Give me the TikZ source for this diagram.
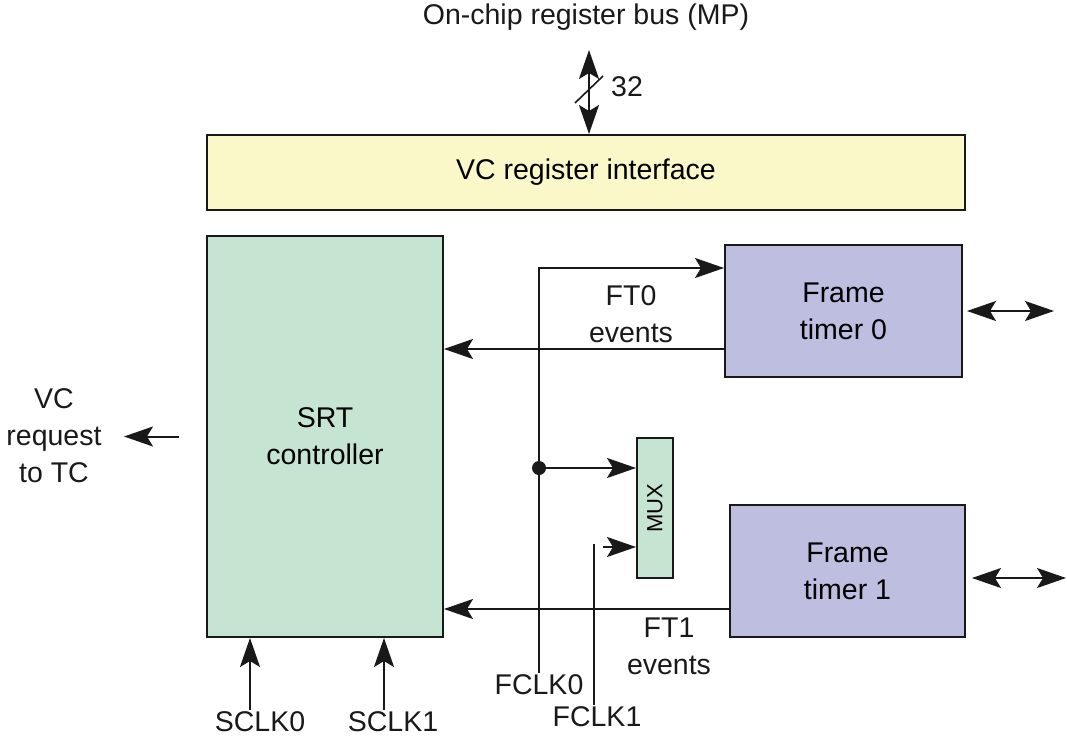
\documentclass[tikz,border=0pt]{standalone}
\usepackage{fontspec}
\setmainfont{Liberation Sans}
\usetikzlibrary{arrows.meta}

\definecolor{regyellow}{RGB}{250,248,200}
\definecolor{srtgreen}{RGB}{198,228,210}
\definecolor{ftblue}{RGB}{189,190,224}

\begin{document}
\begin{tikzpicture}[
        x=1pt, y=-1pt,
        font=\fontsize{28.5}{37}\selectfont,
        box/.style={rectangle, draw=black!90, line width=2pt, inner sep=0pt,
                    align=center},
        lbl/.style={align=center, inner sep=2pt, text=black!90},
        arr/.style={-{Stealth[length=29pt, width=20pt, inset=6pt]}, line width=2pt, black!90},
        dbl/.style={{Stealth[length=29pt, width=20pt, inset=6pt]}-{Stealth[length=29pt, width=20pt, inset=6pt]},
                    line width=1.6pt, black!90},
    ]
    \useasboundingbox (0,0) rectangle (1067,738);
    \node[box, fill=regyellow, minimum width=758pt, minimum height=75pt] (reg) at (586,172.5) {VC register interface};
    \node[box, fill=srtgreen, minimum width=236pt, minimum height=401pt] (srt) at (325,436.5) {SRT\\controller};
    \node[box, fill=ftblue, minimum width=237pt, minimum height=132pt] (ft0) at (843.5,311) {Frame\\timer 0};
    \node[box, fill=ftblue, minimum width=235pt, minimum height=132pt] (ft1) at (847.5,571) {Frame\\timer 1};
    \node[box, fill=srtgreen, minimum width=36pt, minimum height=140pt] (mux) at (655,508) {};
    \node[rotate=90, font=\fontsize{22}{26}\selectfont] (muxtxt) at (mux.center) {MUX};

    % labels
    \node[lbl] (bus) at (586,17) {On-chip register bus (MP)};
    \node[lbl] (width) at (627,87) {32};
    \node[lbl] (vcreq) at (54,436) {VC\\request\\to TC};
    \node[lbl] (ft0ev) at (631,314) {FT0\\events};
    \node[lbl] (ft1ev) at (669,646) {FT1\\events};
    \node[lbl] (sclk0) at (260,722) {SCLK0};
    \node[lbl] (sclk1) at (393,722) {SCLK1};
    \node[lbl] (fclk0) at (539,685) {FCLK0};
    \node[lbl] (fclk1) at (597,717) {FCLK1};

    % bus
    \coordinate (bustop) at (589,50);
    \draw[dbl] (bustop) -- (bustop |- reg.north);
    \draw[line width=1.6pt, black!90] (575,103) -- (603,76);

    % connectors
    \draw[arr] ([xshift=-27pt]srt.west) -- ++(-55,0);
    \draw[arr] ([xshift=-10pt]sclk0.north) -- ([xshift=-10pt]sclk0.north |- srt.south);
    \draw[arr] ([xshift=-9pt]sclk1.north) -- ([xshift=-9pt]sclk1.north |- srt.south);
    \draw[arr] (fclk0.north) |- ([yshift=43pt]ft0.west);
    \coordinate (mux0) at ([yshift=40pt]mux.west);
    \fill[black!90] (mux0 -| fclk0.north) circle (7);
    \draw[arr] (mux0 -| fclk0.north) -- (mux0);
    \draw[line width=2pt, black!90] ([xshift=-3pt]fclk1.north) -- ([xshift=-3pt]fclk1.north |- 0,544);
    \draw[arr] ([shift={(-33,39)}]mux.west) -- ([yshift=-39pt]mux.west);
    \draw[arr] ([yshift=-38pt]ft0.west) -- ([yshift=-38pt]ft0.west -| srt.east);
    \draw[arr] ([yshift=-38pt]ft1.west) -- ([yshift=-38pt]ft1.west -| srt.east);
    \draw[dbl] ([xshift=4pt]ft0.east) -- ++(87,0);
    \draw[dbl] ([shift={(6,7)}]ft1.east) -- ++(94,0);
\end{tikzpicture}
\end{document}
